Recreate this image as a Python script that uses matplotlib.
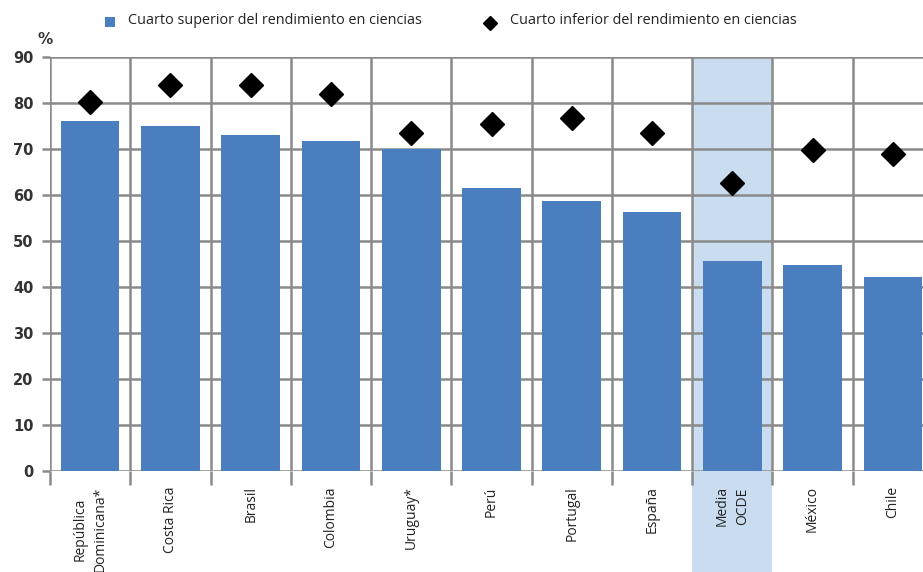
import matplotlib
matplotlib.use("Agg")
import matplotlib.pyplot as plt
from matplotlib.patches import Rectangle
from matplotlib.lines import Line2D
import matplotlib.transforms as mtransforms

categories = ["República\nDominicana*", "Costa Rica", "Brasil", "Colombia", "Uruguay*",
              "Perú", "Portugal", "España", "Media\nOCDE", "México", "Chile"]
top_quarter = [76, 75, 73, 71.8, 70, 61.5, 58.7, 56.3, 45.7, 44.8, 42.2]
bottom_quarter = [80.3, 84, 84, 82, 73.5, 75.5, 76.8, 73.5, 62.5, 69.8, 68.9]
yticks = [0, 10, 20, 30, 40, 50, 60, 70, 80, 90]
highlight = "Media\nOCDE"

W, H = 923, 572
fig = plt.figure(figsize=(W / 100, H / 100), dpi=100)
plt.rcParams['font.family'] = ['Open Sans', 'DejaVu Sans']

left_px, right_px, top_px, bottom_px = 50, 933, 57, 471
ax = fig.add_axes([left_px / W, 1 - bottom_px / H, (right_px - left_px) / W, (bottom_px - top_px) / H])
ax.set_zorder(1)

n = len(categories)
x = list(range(n))
grid_c = "#8a8a8a"

# highlight band extending below axis
hi = categories.index(highlight)
trans = mtransforms.blended_transform_factory(ax.transData, fig.transFigure)
band = Rectangle((hi - 0.5, 0), 1.0, 1 - top_px / H, transform=trans,
                 facecolor="#cadcf0", edgecolor="none", zorder=-1, clip_on=False)
fig.patches.append(band)
ax.set_facecolor("none")

ax.bar(x, top_quarter, width=0.73, color="#4a7ebf", zorder=3)
ax.plot(x, bottom_quarter, linestyle="none", marker="D", markersize=12,
        color="black", zorder=4)

ax.set_xlim(-0.5, n - 0.5)
ax.set_ylim(0, 90)

# grid lines
for yv in yticks:
    ax.axhline(yv, color=grid_c, lw=1.8, zorder=2)
for b in range(n + 1):
    ax.axvline(b - 0.5, color=grid_c, lw=1.8, zorder=2)

for s in ax.spines.values():
    s.set_visible(False)

ax.set_yticks(yticks)
ax.set_yticklabels([str(v) for v in yticks], fontsize=10.5, fontweight="bold",
                   color="#333333", family="DejaVu Sans")
ax.tick_params(axis="y", length=6, width=1.8, color=grid_c, pad=6)

ax.set_xticks([b - 0.5 for b in range(n + 1)], minor=False)
ax.set_xticklabels([])
ax.tick_params(axis="x", length=10, width=1.8, color=grid_c)
ax.set_xticks(x, minor=True)
ax.set_xticklabels(categories, minor=True, rotation=90, fontsize=10,
                   color="#222222", va="top", ha="center", linespacing=1.45)
ax.tick_params(axis="x", which="minor", length=0, pad=11)

fig.text(38 / W, 1 - 40 / H, "%", fontsize=11, fontweight="bold", color="#333333",
         family="DejaVu Sans", va="center")

# legend
fig.patches.append(Rectangle(((105) / W, 1 - 27 / H), 10 / W, 10 / H,
                             transform=fig.transFigure, facecolor="#4a7ebf",
                             edgecolor="none"))
fig.text(128 / W, 1 - 21 / H, "Cuarto superior del rendimiento en ciencias",
         fontsize=10.4, color="#222222", va="center")
fig.lines.append(Line2D([490 / W], [1 - 23 / H], transform=fig.transFigure,
                        marker="D", markersize=7, color="black", linestyle="none"))
fig.text(510 / W, 1 - 21 / H, "Cuarto inferior del rendimiento en ciencias",
         fontsize=10.4, color="#222222", va="center")

fig.savefig("out.png", dpi=100)
